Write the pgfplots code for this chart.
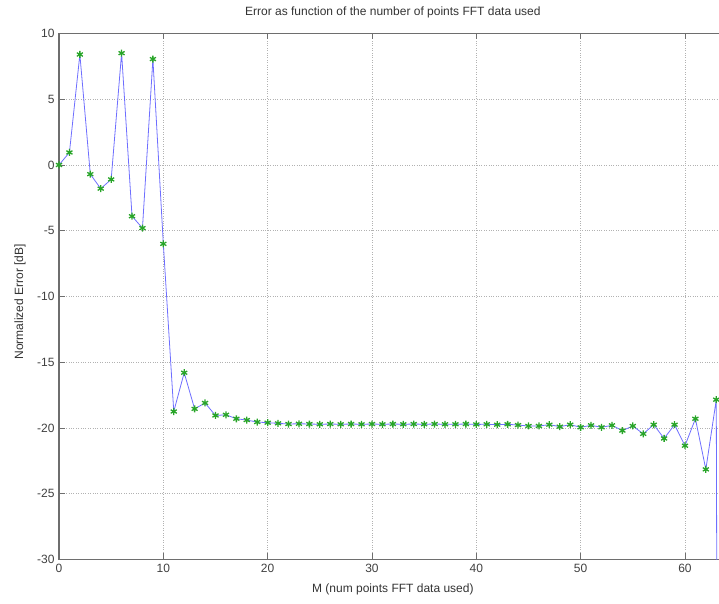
\documentclass[border=0pt]{standalone}
\usepackage{fontspec}
\setmainfont{Liberation Sans}
\usepackage{pgfplots}
\pgfplotsset{compat=1.18}
\definecolor{lineblue}{RGB}{110,110,255}
\definecolor{markgreen}{RGB}{40,165,40}
\definecolor{axgray}{RGB}{110,110,110}
\begin{document}
\begin{tikzpicture}
\path[use as bounding box] (0,0) rectangle (719pt,603pt);
\begin{axis}[
  at={(59pt,43.5pt)}, anchor=south west,
  scale only axis, width=667.7pt, height=526pt,
  xmin=0, xmax=64, ymin=-30, ymax=10,
  xtick={0,10,...,60}, ytick={-30,-25,...,10},
  grid=major,
  grid style={dotted, gray!60, line width=0.6pt},
  axis line style={axgray, line width=1.2pt},
  major tick style={axgray, line width=0.8pt},
  major tick length=6pt,
  font=\fontsize{12}{14}\selectfont,
  tick label style={font=\fontsize{12}{14}\selectfont, text=black!75},
  /pgf/number format/assume math mode=true,
  xticklabel style={yshift=-1pt},
  yticklabel style={xshift=-1pt},
  title={Error as function of the number of points FFT data used},
  title style={at={(0.5,1)}, anchor=south, yshift=6pt, font=\fontsize{12}{14}\selectfont, text=black!80},
  xlabel={M (num points FFT data used)},
  xlabel style={at={(0.5,0)}, anchor=north, yshift=-21pt, font=\fontsize{12}{14}\selectfont, text=black!80},
  ylabel={Normalized Error [dB]},
  ylabel style={at={(axis description cs:0,0.49)}, rotate=0, anchor=center, yshift=39pt, font=\fontsize{12}{14}\selectfont, text=black!80},
]
\addplot[lineblue, line width=0.8pt, mark=asterisk, mark size=3.5pt,
  mark options={markgreen, line width=1.3pt}] coordinates {
(0,0) (1,0.95) (2,8.4) (3,-0.7) (4,-1.8) (5,-1.1) (6,8.5) (7,-3.9)
(8,-4.8) (9,8.05) (10,-6.0) (11,-18.75) (12,-15.8) (13,-18.55) (14,-18.1)
(15,-19.05) (16,-19.0) (17,-19.3) (18,-19.4) (19,-19.55) (20,-19.6)
(21,-19.65) (22,-19.7) (23,-19.68) (24,-19.7) (25,-19.72) (26,-19.7)
(27,-19.72) (28,-19.7) (29,-19.72) (30,-19.7) (31,-19.72) (32,-19.7)
(33,-19.72) (34,-19.7) (35,-19.72) (36,-19.7) (37,-19.72) (38,-19.72)
(39,-19.7) (40,-19.73) (41,-19.72) (42,-19.75) (43,-19.72) (44,-19.78)
(45,-19.85) (46,-19.85) (47,-19.75) (48,-19.9) (49,-19.75) (50,-19.95)
(51,-19.8) (52,-19.95) (53,-19.8) (54,-20.2) (55,-19.85) (56,-20.45)
(57,-19.75) (58,-20.8) (59,-19.75) (60,-21.35) (61,-19.3) (62,-23.15)
(63,-17.85) (64,-300)
};
\end{axis}
\end{tikzpicture}
\end{document}
